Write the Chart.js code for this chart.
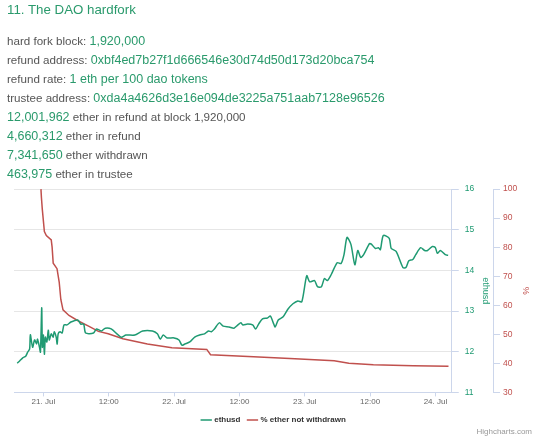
<!DOCTYPE html>
<html>
<head>
<meta charset="utf-8">
<script src="https://cdn.jsdelivr.net/npm/chart.js@4/dist/chart.umd.min.js"></script>
<style>
  html, body { margin:0; padding:0; background:#fff; }
  body { width:540px; height:440px; position:relative; overflow:hidden; font-family:"Liberation Sans", Arial, sans-serif; }
  #info { position:absolute; left:7px; top:0; z-index:2; }
  #info h3 { margin:0; font-weight:normal; font-size:13.3px; color:#2a9a6c; line-height:20px; height:22px; }
  #info .row { font-size:11.6px; color:#555; line-height:19px; height:19px; white-space:nowrap; }
  #info .v { color:#2a9a6c; font-size:12.5px; }
  #wrap { position:absolute; left:0; top:178px; width:540px; height:262px; }
  #credits { position:absolute; right:8px; top:427px; font-size:8px; color:#999; }
</style>
</head>
<body>
<div id="info">
  <h3>11. The DAO hardfork</h3>
  <div style="height:9px"></div>
  <div class="row">hard fork block: <span class="v">1,920,000</span></div>
  <div class="row">refund address: <span class="v">0xbf4ed7b27f1d666546e30d74d50d173d20bca754</span></div>
  <div class="row">refund rate: <span class="v">1 eth per 100 dao tokens</span></div>
  <div class="row">trustee address: <span class="v">0xda4a4626d3e16e094de3225a751aab7128e96526</span></div>
  <div class="row"><span class="v">12,001,962</span> ether in refund at block 1,920,000</div>
  <div class="row"><span class="v">4,660,312</span> ether in refund</div>
  <div class="row"><span class="v">7,341,650</span> ether withdrawn</div>
  <div class="row"><span class="v">463,975</span> ether in trustee</div>
</div>
<div id="wrap"><canvas id="c"></canvas></div>
<div id="credits">Highcharts.com</div>
<script>
// hours relative to 21 Jul 00:00
const ethHours = [-4.82,-4.33,-3.79,-3.25,-2.89,-2.53,-2.40,-1.98,-1.62,-1.26,-1.08,-0.72,-0.54,-0.31,-0.19,0,0.18,0.36,0.63,0.90,1.08,1.44,1.80,1.98,2.35,2.53,2.71,3.07,3.43,3.79,4.33,5.05,6.32,6.86,7.40,7.76,9.20,9.74,10.65,11.37,12.45,14.25,15.16,16.78,18.22,20.03,20.93,21.47,22.01,22.74,24.00,24.90,25.44,25.98,26.89,27.79,28.69,29.59,30.31,30.86,31.40,32.30,33.02,34.10,35.01,35.73,36.27,36.63,37.53,38.43,38.98,39.52,40.24,41.14,41.68,42.22,42.58,43.13,44.03,44.93,45.83,46.73,47.46,48.36,48.90,49.80,50.34,51.06,51.61,52.15,52.87,53.95,54.67,55.21,55.76,56.48,57.20,57.74,58.28,58.82,59.91,60.27,60.99,61.53,61.89,62.43,63.52,63.88,64.78,66.04,66.58,67.12,67.85,68.39,69.29,70.01,70.55,71.45,71.99,72.36,72.90,73.80,74.34];
const ethusd = [11.72,11.78,11.85,11.89,11.99,12.07,12.42,12.11,12.29,12.19,12.31,12.11,11.99,13.08,12.11,12.41,11.94,12.36,12.24,12.53,12.29,12.44,12.36,12.49,12.36,12.19,12.44,12.49,12.46,12.66,12.66,12.73,12.78,12.68,12.68,12.46,12.46,12.56,12.51,12.58,12.56,12.36,12.41,12.41,12.51,12.51,12.44,12.31,12.41,12.34,12.34,12.29,12.16,12.19,12.24,12.36,12.41,12.44,12.51,12.49,12.56,12.71,12.63,12.61,12.58,12.66,12.71,12.66,12.68,12.66,12.56,12.68,12.81,12.83,12.88,12.71,12.61,12.78,12.86,13.05,13.18,13.25,13.23,13.87,13.72,13.75,13.60,13.60,13.80,13.75,13.90,14.19,14.17,14.39,14.81,14.64,14.14,14.49,14.32,14.39,14.66,14.64,14.54,14.56,14.51,14.86,14.79,14.54,14.47,14.07,14.07,14.24,14.27,14.39,14.56,14.49,14.49,14.59,14.56,14.42,14.49,14.39,14.37];
const pctHours = [-0.45,-0.36,-0.2,0.18,0.54,1.44,1.6,1.8,2.5,2.9,3.2,3.6,4.7,6.5,8.3,10.1,11.9,14.6,19.1,23.6,30.0,30.7,38.6,46.2,53.4,56.1,60.6,67.9,74.4];
const pctNotWithdrawn = [100,97,93,85.4,84,82.5,80,74.5,72.6,68,62,58.4,56.5,54.5,52.8,51,50.2,48.5,46.7,45.4,44.8,43.0,42.3,41.6,40.9,40.0,39.5,39.2,39.0];
const xTickValues = [0,12,24,36,48,60,72];
const xTickLabels = ["21. Jul","12:00","22. Jul","12:00","23. Jul","12:00","24. Jul"];
const ethTicks = [11,12,13,14,15,16];
const pctTicks = [30,40,50,60,70,80,90,100];

const green = '#1f9a72';
const red = '#c0504d';
const axisGray = '#ccd6eb';
const FF = '"Liberation Sans", Arial, sans-serif';

new Chart(document.getElementById('c'), {
  type: 'line',
  data: {
    datasets: [
      { label: 'ethusd', data: ethHours.map((h,i)=>({x:h,y:ethusd[i]})), yAxisID:'y',
        borderColor: green, backgroundColor: green, borderWidth:1.5, pointRadius:0, tension:0.25 },
      { label: '% ether not withdrawn', data: pctHours.map((h,i)=>({x:h,y:pctNotWithdrawn[i]})), yAxisID:'y2',
        borderColor: red, backgroundColor: red, borderWidth:1.5, pointRadius:0, tension:0 }
    ]
  },
  options: {
    responsive:true, maintainAspectRatio:false, animation:false,
    layout: { padding: { left: 14, right: 6, top: 2, bottom: 6 } },
    plugins: {
      legend: { position:'bottom', labels: { usePointStyle:true, pointStyle:'line', boxWidth:8, padding:8,
        color:'#333', font:{ family:FF, size:8, weight:'bold' } } },
      tooltip: { enabled:false }
    },
    scales: {
      x: { type:'linear', min:-5.4, max:75,
        afterBuildTicks: s => { s.ticks = xTickValues.map(v=>({value:v})); },
        ticks: { callback: v => xTickLabels[xTickValues.indexOf(v)], color:'#666', maxRotation:0, autoSkip:false,
          font:{ family:FF, size:8 }, padding:1 },
        grid: { drawOnChartArea:false, drawTicks:true, tickLength:4, tickColor:axisGray },
        border: { color:axisGray }
      },
      y: { position:'right', min:11, max:16,
        afterBuildTicks: s => { s.ticks = ethTicks.map(v=>({value:v})); },
        ticks: { color:green, font:{ family:FF, size:8.5 }, padding:6 },
        grid: { color:'#e6e6e6', tickColor:axisGray, tickLength:7 },
        border: { color:axisGray },
        title: { display:true, text:'ethusd', color:green, font:{ family:FF, size:9 }, padding:{top:2,bottom:0} }
      },
      y2: { position:'right', min:30, max:100,
        afterBuildTicks: s => { s.ticks = pctTicks.map(v=>({value:v})); },
        ticks: { color:red, font:{ family:FF, size:8.5 }, padding:3 },
        grid: { drawOnChartArea:false, tickColor:axisGray, tickLength:7 },
        border: { color:axisGray },
        title: { display:true, text:'%', color:red, font:{ family:FF, size:9 }, padding:{top:3,bottom:0} }
      }
    }
  }
});
</script>
</body>
</html>
